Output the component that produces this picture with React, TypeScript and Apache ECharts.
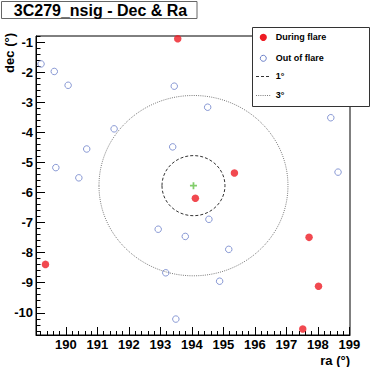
import React, { useEffect, useRef } from 'react';
import * as echarts from 'echarts';

const TITLE = '3C279_nsig - Dec & Ra';
const X_NAME = 'ra (°)';
const Y_NAME = 'dec (°)';

const X_MIN = 189.05;
const X_MAX = 199.02;
const Y_MIN = -10.74;
const Y_MAX = -0.79;

const X_TICKS = [190, 191, 192, 193, 194, 195, 196, 197, 198, 199];
const Y_TICKS = [-10, -9, -8, -7, -6, -5, -4, -3, -2, -1];

const DURING_RA = [193.55, 195.35, 194.11, 189.35, 197.72, 198.02, 197.52];
const DURING_DEC = [-0.88, -5.35, -6.19, -8.39, -7.49, -9.12, -10.54];

const OUT_RA = [189.21, 189.63, 190.07, 193.44, 191.53, 190.66, 193.39, 189.68, 190.41, 194.5, 198.41, 198.64, 192.93, 193.79, 193.17, 193.49, 194.54, 195.17, 194.88];
const OUT_DEC = [-1.72, -1.97, -2.43, -2.46, -3.88, -4.55, -4.48, -5.17, -5.51, -3.16, -3.51, -5.32, -7.22, -7.46, -8.67, -10.21, -6.89, -7.89, -8.95];

const CENTER_RA = 194.05;
const CENTER_DEC = -5.77;
const RADII = [1, 3];

const LEGEND_LABELS = ['During flare', 'Out of flare', '1°', '3°'];

const FONT = '"Liberation Sans", Arial, Helvetica, sans-serif';
const RED = '#ee1c24';
const BLUE = '#6b80c9';
const GREEN = '#62c045';

function minorTicks(min: number, max: number, step: number, majors: number[]) {
  const out: number[] = [];
  const start = Math.ceil(min / step - 1e-9);
  const end = Math.floor(max / step + 1e-9);
  for (let k = start; k <= end; k++) {
    const v = Math.round(k * step * 1000) / 1000;
    if (!majors.some((m) => Math.abs(m - v) < 1e-6)) out.push(v);
  }
  return out;
}

export default function App() {
  const ref = useRef<HTMLDivElement>(null);

  useEffect(() => {
    if (!ref.current) return;
    const chart = echarts.init(ref.current, undefined, { renderer: 'svg' });
    const xMinor = minorTicks(X_MIN, X_MAX, 0.2, X_TICKS);
    const yMinor = minorTicks(Y_MIN, Y_MAX, 0.2, Y_TICKS);

    const labelStyle = {
      color: '#000',
      fontFamily: FONT,
      fontWeight: 'bold' as const,
      fontSize: 13,
    };

    const option: any = {
      animation: false,
      backgroundColor: '#fff',
      grid: {
        left: 36,
        top: 36,
        right: 21,
        bottom: 32,
        show: true,
        borderColor: '#000',
        borderWidth: 1,
        backgroundColor: 'transparent',
      },
      xAxis: [
        {
          type: 'value',
          min: X_MIN,
          max: X_MAX,
          position: 'bottom',
          axisLine: { show: true, lineStyle: { color: '#000', width: 1 } },
          axisTick: { show: true, inside: true, length: 8, customValues: X_TICKS, lineStyle: { color: '#000' } },
          axisLabel: { ...labelStyle, customValues: X_TICKS, margin: 3 },
          splitLine: { show: false },
        },
        {
          type: 'value',
          min: X_MIN,
          max: X_MAX,
          position: 'bottom',
          axisLine: { show: false },
          axisTick: { show: true, inside: true, length: 4, customValues: xMinor, lineStyle: { color: '#000' } },
          axisLabel: { show: false },
          splitLine: { show: false },
        },
      ],
      yAxis: [
        {
          type: 'value',
          min: Y_MIN,
          max: Y_MAX,
          position: 'left',
          axisLine: { show: true, lineStyle: { color: '#000', width: 1 } },
          axisTick: { show: true, inside: true, length: 9, customValues: Y_TICKS, lineStyle: { color: '#000' } },
          axisLabel: { ...labelStyle, customValues: Y_TICKS, margin: 3 },
          splitLine: { show: false },
        },
        {
          type: 'value',
          min: Y_MIN,
          max: Y_MAX,
          position: 'left',
          axisLine: { show: false },
          axisTick: { show: true, inside: true, length: 4.5, customValues: yMinor, lineStyle: { color: '#000' } },
          axisLabel: { show: false },
          splitLine: { show: false },
        },
      ],
      series: [
        {
          type: 'custom',
          xAxisIndex: 0,
          yAxisIndex: 0,
          z: 1,
          silent: true,
          data: RADII.map((r) => [CENTER_RA, CENTER_DEC, r]),
          renderItem: (params: any, api: any) => {
            const c = api.coord([api.value(0), api.value(1)]);
            const s = api.size([api.value(2), api.value(2)]);
            const dotted = params.dataIndex === 1;
            return {
              type: 'ellipse',
              shape: { cx: c[0], cy: c[1], rx: s[0], ry: s[1] },
              style: {
                fill: 'none',
                stroke: dotted ? '#7a7a7a' : '#333',
                lineWidth: 1,
                lineDash: dotted ? [1, 1.2] : [3, 2],
              },
            };
          },
        },
        {
          type: 'scatter',
          name: LEGEND_LABELS[1],
          xAxisIndex: 0,
          yAxisIndex: 0,
          z: 3,
          symbol: 'circle',
          symbolSize: 6.5,
          itemStyle: { color: 'rgba(255,255,255,0)', borderColor: BLUE, borderWidth: 1 },
          data: OUT_RA.map((r, i) => [r, OUT_DEC[i]]),
        },
        {
          type: 'scatter',
          name: LEGEND_LABELS[0],
          xAxisIndex: 0,
          yAxisIndex: 0,
          z: 4,
          clip: false,
          symbol: 'circle',
          symbolSize: 7.5,
          itemStyle: { color: RED },
          data: DURING_RA.map((r, i) => [r, DURING_DEC[i]]),
        },
        {
          type: 'scatter',
          name: 'center',
          xAxisIndex: 0,
          yAxisIndex: 0,
          z: 5,
          symbol: 'path://M3,0H5V3H8V5H5V8H3V5H0V3H3Z',
          symbolSize: 7,
          itemStyle: { color: GREEN },
          data: [[CENTER_RA, CENTER_DEC]],
        },
      ],
      graphic: [
        {
          type: 'rect',
          z: 100,
          shape: { x: 1.5, y: 1.5, width: 195.5, height: 17 },
          style: { fill: '#fff', stroke: '#666', lineWidth: 1 },
        },
        {
          type: 'text',
          z: 101,
          x: 100.5,
          y: 10.5,
          style: {
            text: TITLE,
            align: 'center',
            verticalAlign: 'middle',
            fill: '#000',
            font: `bold 16px ${FONT}`,
          },
        },
        {
          type: 'rect',
          z: 100,
          shape: { x: 252.5, y: 27.5, width: 117, height: 79 },
          style: { fill: '#fff', stroke: '#333', lineWidth: 1 },
        },
        {
          type: 'circle',
          z: 101,
          shape: { cx: 263.3, cy: 37.3, r: 3.6 },
          style: { fill: RED },
        },
        {
          type: 'circle',
          z: 101,
          shape: { cx: 263.3, cy: 58.3, r: 3 },
          style: { fill: 'none', stroke: BLUE, lineWidth: 1 },
        },
        {
          type: 'line',
          z: 101,
          shape: { x1: 256, y1: 76.5, x2: 271, y2: 76.5 },
          style: { stroke: '#333', lineWidth: 1, lineDash: [3, 2] },
        },
        {
          type: 'line',
          z: 101,
          shape: { x1: 256, y1: 95.5, x2: 271, y2: 95.5 },
          style: { stroke: '#7a7a7a', lineWidth: 1, lineDash: [1, 1.2] },
        },
        ...LEGEND_LABELS.map((t, i) => ({
          type: 'text',
          z: 101,
          x: 275.7,
          y: [37.3, 58.3, 75.8, 95.2][i],
          style: {
            text: t,
            align: 'left',
            verticalAlign: 'middle',
            fill: '#000',
            font: `bold 9px ${FONT}`,
          },
        })),
        {
          type: 'text',
          z: 101,
          x: 350,
          y: 360,
          style: {
            text: X_NAME,
            align: 'right',
            verticalAlign: 'middle',
            fill: '#000',
            font: `bold 13px ${FONT}`,
          },
        },
        {
          type: 'text',
          z: 101,
          x: 9,
          y: 33,
          rotation: Math.PI / 2,
          style: {
            text: Y_NAME,
            align: 'right',
            verticalAlign: 'middle',
            fill: '#000',
            font: `bold 13px ${FONT}`,
          },
        },
      ],
    };

    chart.setOption(option);
    return () => chart.dispose();
  }, []);

  return (
    <div
      ref={ref}
      style={{ position: 'fixed', left: 0, top: 0, width: 371, height: 367, background: '#fff' }}
    />
  );
}
